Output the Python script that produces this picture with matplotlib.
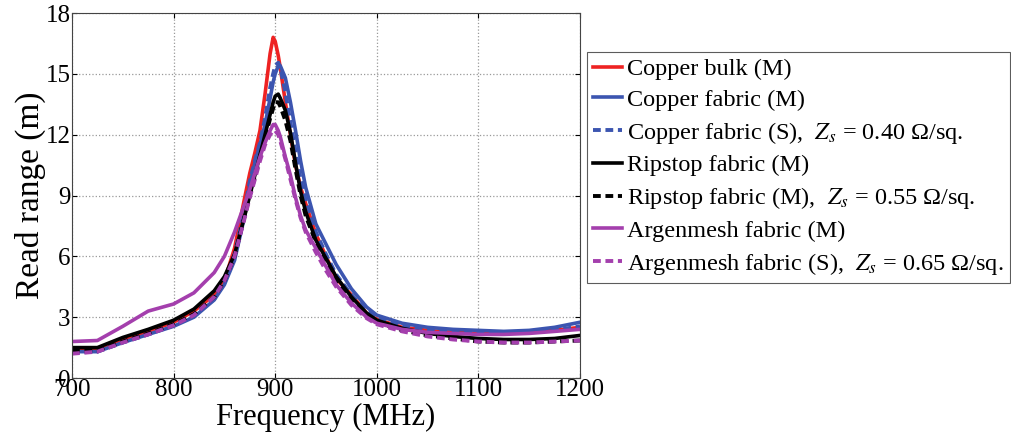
import matplotlib
matplotlib.use("Agg")
import matplotlib.pyplot as plt

plt.rcParams["font.family"] = "Liberation Serif"
plt.rcParams["mathtext.fontset"] = "stix"

freq = [700, 725, 750, 775, 800, 820, 840, 850, 860, 870, 875, 880, 885, 890, 895, 898,
        900, 903, 905, 910, 915, 920, 925, 930, 940, 950, 960, 975, 990, 1000, 1025,
        1050, 1075, 1100, 1125, 1150, 1175, 1200]

copper_bulk_m = [1.45, 1.45, 1.85, 2.3, 2.75, 3.3, 4.1, 4.8, 6.4, 8.9, 10.1, 11.1, 12.2, 14.0, 16.0, 16.8,
                 16.6, 15.9, 15.3, 13.6, 12.0, 10.5, 9.4, 8.6, 7.1, 6.0, 4.9, 4.1, 3.2, 2.9, 2.5,
                 2.35, 2.25, 2.2, 2.2, 2.25, 2.35, 2.5]
copper_fabric_m = [1.3, 1.3, 1.75, 2.15, 2.55, 3.0, 3.85, 4.6, 5.8, 8.0, 9.5, 10.6, 11.5, 12.5, 13.8, 14.6,
                   15.0, 15.4, 15.4, 14.8, 13.6, 12.2, 10.7, 9.4, 7.6, 6.6, 5.6, 4.4, 3.5, 3.1, 2.7,
                   2.5, 2.4, 2.35, 2.3, 2.35, 2.5, 2.75]
copper_fabric_s = [1.25, 1.3, 1.75, 2.15, 2.6, 3.05, 3.9, 4.7, 6.1, 8.3, 9.7, 10.7, 11.6, 12.8, 14.3, 15.0,
                   15.4, 15.55, 15.3, 14.1, 12.6, 11.2, 9.8, 8.8, 7.2, 6.1, 5.1, 4.1, 3.3, 2.95, 2.55,
                   2.35, 2.25, 2.2, 2.2, 2.25, 2.35, 2.55]
ripstop_m = [1.5, 1.5, 2.0, 2.4, 2.85, 3.4, 4.3, 5.0, 6.1, 8.0, 9.0, 10.0, 11.0, 12.0, 13.0, 13.6,
             13.9, 14.0, 13.8, 13.2, 12.1, 10.6, 9.2, 8.2, 6.8, 5.9, 5.0, 4.0, 3.2, 2.85, 2.45,
             2.2, 2.05, 1.95, 1.9, 1.9, 1.95, 2.1]
ripstop_s = [1.35, 1.35, 1.8, 2.2, 2.65, 3.15, 4.0, 4.8, 6.0, 8.0, 9.0, 9.9, 10.9, 11.8, 12.8, 13.3,
             13.6, 13.6, 13.4, 12.7, 11.7, 10.3, 9.0, 8.0, 6.7, 5.8, 4.8, 3.8, 3.1, 2.75, 2.35,
             2.1, 1.95, 1.8, 1.75, 1.75, 1.8, 1.85]
argenmesh_m = [1.8, 1.85, 2.55, 3.3, 3.65, 4.2, 5.2, 6.0, 7.2, 8.6, 9.3, 10.1, 10.9, 11.6, 12.2, 12.5,
               12.5, 12.2, 11.9, 10.9, 10.0, 8.9, 8.0, 7.3, 6.4, 5.5, 4.6, 3.7, 3.0, 2.7, 2.4,
               2.25, 2.2, 2.15, 2.15, 2.2, 2.3, 2.4]
argenmesh_s = [1.2, 1.3, 1.75, 2.15, 2.6, 3.1, 4.0, 4.8, 6.0, 7.9, 8.9, 9.8, 10.7, 11.5, 12.0, 12.2,
               12.2, 12.0, 11.7, 10.8, 9.8, 8.8, 7.9, 7.2, 6.2, 5.3, 4.5, 3.6, 2.95, 2.65, 2.3,
               2.05, 1.9, 1.8, 1.75, 1.75, 1.8, 1.85]

red = "#ee2222"
blue = "#3c55b0"
purple = "#a43fad"
dash = (0, (2.0, 1.2))

fig = plt.figure(figsize=(10.11, 4.44), dpi=100)
ax = fig.add_axes([0.0712, 0.1486, 0.5025, 0.8221])

ax.plot(freq, copper_bulk_m, color=red, lw=2.6, label="Copper bulk (M)")
ax.plot(freq, copper_fabric_m, color=blue, lw=2.6, label="Copper fabric (M)")
ax.plot(freq, copper_fabric_s, color=blue, lw=2.8, ls=dash,
        label=r"Copper fabric (S),  $Z_s$ = 0.40 Ω/sq.")
ax.plot(freq, ripstop_m, color="black", lw=2.6, label="Ripstop fabric (M)")
ax.plot(freq, ripstop_s, color="black", lw=2.8, ls=dash,
        label=r"Ripstop fabric (M),  $Z_s$ = 0.55 Ω/sq.")
ax.plot(freq, argenmesh_m, color=purple, lw=2.6, label="Argenmesh fabric (M)")
ax.plot(freq, argenmesh_s, color=purple, lw=2.8, ls=dash,
        label=r"Argenmesh fabric (S),  $Z_s$ = 0.65 Ω/sq.")

ax.set_xlim(700, 1200)
ax.set_ylim(0, 18)
ax.set_xticks(range(700, 1201, 100))
ax.set_yticks(range(0, 19, 3))
ax.grid(True, ls=":", color="#999999", lw=0.9)
ax.tick_params(direction="in", top=True, right=True, labelsize=18, pad=1)
for s in ax.spines.values():
    s.set_color("#444444")
    s.set_linewidth(0.8)
ax.set_xlabel("Frequency (MHz)", fontsize=22, labelpad=1)
ax.set_ylabel("Read range (m)", fontsize=24, labelpad=0)

leg = fig.legend(loc="upper left", bbox_to_anchor=(587 / 1011, 1 - 52 / 444),
                 fontsize=17.5, frameon=True, fancybox=False, handlelength=1.2,
                 handletextpad=0.2, labelspacing=0.36, borderpad=0.25, borderaxespad=0)
leg.get_frame().set_edgecolor("#333333")
leg.get_frame().set_linewidth(0.8)

fig.savefig("out.png", dpi=100)
